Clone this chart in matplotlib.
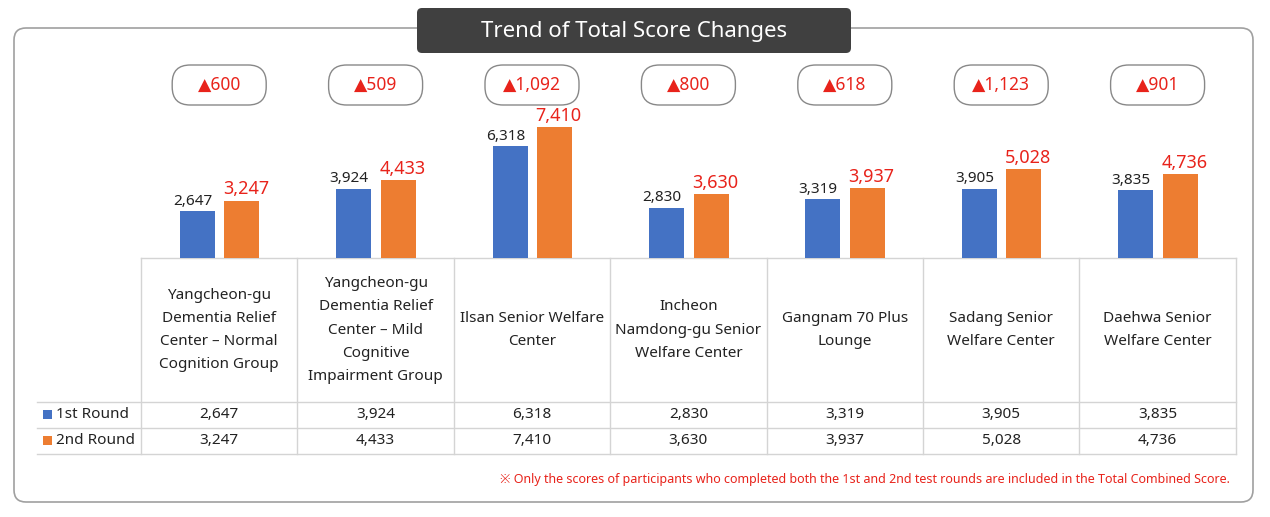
import matplotlib.pyplot as plt
from matplotlib.patches import FancyBboxPatch, Rectangle

plt.rcParams['font.family'] = ['Noto Sans', 'DejaVu Sans']

categories = ['Yangcheon-gu\nDementia Relief\nCenter – Normal\nCognition Group',
              'Yangcheon-gu\nDementia Relief\nCenter – Mild\nCognitive\nImpairment Group',
              'Ilsan Senior Welfare\nCenter',
              'Incheon\nNamdong-gu Senior\nWelfare Center',
              'Gangnam 70 Plus\nLounge',
              'Sadang Senior\nWelfare Center',
              'Daehwa Senior\nWelfare Center']
round1 = [2647, 3924, 6318, 2830, 3319, 3905, 3835]
round2 = [3247, 4433, 7410, 3630, 3937, 5028, 4736]
changes = [600, 509, 1092, 800, 618, 1123, 901]

BLUE = '#4472C4'
ORANGE = '#ED7D31'
RED = '#E8231B'
W, H = 1270, 517

fig = plt.figure(figsize=(12.7, 5.17), dpi=100)

# overlay in pixel coords
ov = fig.add_axes([0, 0, 1, 1])
ov.set_xlim(0, W)
ov.set_ylim(H, 0)
ov.axis('off')

ov.add_patch(FancyBboxPatch((14, 28), 1239, 474, boxstyle='round,pad=0,rounding_size=12',
                            fc='white', ec='#a0a0a0', lw=1.2))
ov.add_patch(FancyBboxPatch((417, 8), 434, 45, boxstyle='round,pad=0,rounding_size=5',
                            fc='#404040', ec='none'))
ov.text(634, 31, 'Trend of Total Score Changes', color='white', fontsize=16,
        ha='center', va='center')

col_x0, col_w = 141, 156.4
n = len(categories)
grey = '#d4d4d4'
# table lines
ov.plot([col_x0, col_x0 + n * col_w], [258, 258], color=grey, lw=1)
for y in (402, 428, 454):
    ov.plot([37, col_x0 + n * col_w], [y, y], color=grey, lw=1)
for i in range(n + 1):
    x = col_x0 + i * col_w
    ov.plot([x, x], [258, 454], color=grey, lw=1)

for i, cat in enumerate(categories):
    cx = col_x0 + (i + 0.5) * col_w
    ov.text(cx, 330, cat, ha='center', va='center', fontsize=11, linespacing=1.75, color='#222222')
    ov.text(cx, 415, f'{round1[i]:,}', ha='center', va='center', fontsize=11, color='#222222')
    ov.text(cx, 441, f'{round2[i]:,}', ha='center', va='center', fontsize=11, color='#222222')
    ov.add_patch(FancyBboxPatch((cx - 47, 65), 94, 40, boxstyle='round,pad=0,rounding_size=18',
                                fc='white', ec='#888888', lw=1))
    ov.text(cx, 85, f'▲{changes[i]:,}', ha='center', va='center', fontsize=12.5, color=RED)

ov.add_patch(Rectangle((43, 410), 9, 9, fc=BLUE, ec='none'))
ov.text(56, 415, '1st Round', va='center', fontsize=11, color='#222222')
ov.add_patch(Rectangle((43, 436), 9, 9, fc=ORANGE, ec='none'))
ov.text(56, 441, '2nd Round', va='center', fontsize=11, color='#222222')

ov.text(1230, 480, '※ Only the scores of participants who completed both the 1st and 2nd test rounds are included in the Total Combined Score.',
        ha='right', va='center', fontsize=9, color=RED, fontweight='bold')

# bar axes
scale = 131 / 7410
top = 8000 * scale
ax = fig.add_axes([col_x0 / W, (H - 258) / H, n * col_w / W, top / H])
ax.set_xlim(0, n)
ax.set_ylim(0, 8000)
ax.axis('off')
xs = [i + 0.5 for i in range(n)]
bw = 0.224
ax.bar([x - 0.14 for x in xs], round1, width=bw, color=BLUE)
ax.bar([x + 0.145 for x in xs], round2, width=bw, color=ORANGE)
for x, a, b in zip(xs, round1, round2):
    ax.text(x - 0.17, a + 150, f'{a:,}', ha='center', va='bottom', fontsize=11, color='#222222')
    ax.text(x + 0.17, b + 120, f'{b:,}', ha='center', va='bottom', fontsize=13,
            fontweight='bold', color=RED)

fig.savefig('out.png', dpi=100)
